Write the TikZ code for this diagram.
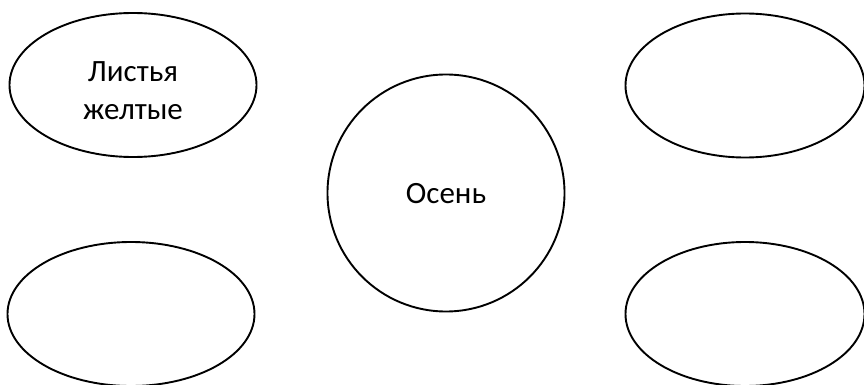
\documentclass[tikz,border=0pt]{standalone}
\usepackage{fontspec}
\setmainfont{Carlito}
\usetikzlibrary{shapes.geometric}
\begin{document}
\begin{tikzpicture}[x=1pt,y=-1pt,
  oval/.style={draw,line width=1.9pt,ellipse,inner sep=0pt,minimum width=247pt,minimum height=144pt},
  bigcircle/.style={draw,line width=1.9pt,circle,inner sep=0pt,minimum size=237pt},
  lbl/.style={font=\fontsize{31}{38}\selectfont,align=center}]
\useasboundingbox (0,0) rectangle (864,385);
\node[oval] (tl) at (133,85) {};
\node[oval,minimum width=239pt] (tr) at (745,85.5) {};
\node[oval] (bl) at (131,314) {};
\node[oval,minimum width=239pt] (br) at (745,314) {};
\node[bigcircle] (c) at (446,193) {};
\node[lbl] (tlt) at (133,91) {Листья\\желтые};
\node[lbl] (ct) at (446,194) {Осень};
\end{tikzpicture}
\end{document}
